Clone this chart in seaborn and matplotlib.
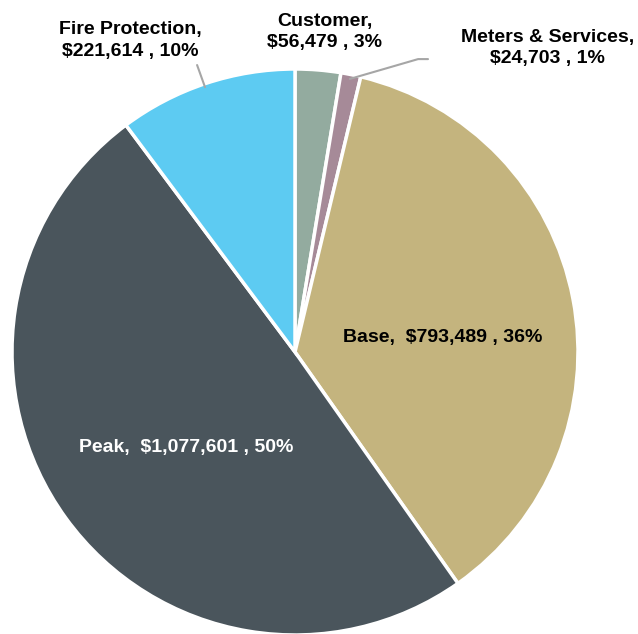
import matplotlib
matplotlib.use("Agg")
import matplotlib.pyplot as plt
import seaborn as sns

sns.set_theme(style="white")
plt.rcParams['font.family'] = ['Liberation Sans Narrow', 'Liberation Sans', 'DejaVu Sans']

categories = ["Customer", "Meters & Services", "Base", "Peak", "Fire Protection"]
values = [56479, 24703, 793489, 1077601, 221614]
percents = ["3%", "1%", "36%", "50%", "10%"]
colors = ["#93AB9F", "#A68A98", "#C4B47E", "#4A555C", "#5DCBF2"]

fig = plt.figure(figsize=(6.38, 6.34), dpi=100)
ax = fig.add_axes([12/638, -1/634, 566/638, 566/634])
ax.pie(values, colors=colors, startangle=90, counterclock=False,
       wedgeprops=dict(edgecolor="white", linewidth=2.5))
ax.set_xlim(-1, 1)
ax.set_ylim(-1, 1)
ax.set_aspect("equal")
ax.axis("off")

def fmt(v):
    return "${:,}".format(v)

fs = 14
ls = 1.35
lab = {c: (v, p) for c, v, p in zip(categories, values, percents)}

v, p = lab["Customer"]
ax.text(0.106, 1.13, f"Customer,\n{fmt(v)} , {p}", ha="center", va="center",
        fontsize=fs, fontweight="bold", color="black", linespacing=ls, clip_on=False)
v, p = lab["Fire Protection"]
ax.text(-0.583, 1.10, f"Fire Protection,\n{fmt(v)} , {p}", ha="center", va="center",
        fontsize=fs, fontweight="bold", color="black", linespacing=ls, clip_on=False)
v, p = lab["Meters & Services"]
ax.text(0.892, 1.074, f"Meters & Services,\n{fmt(v)} , {p}", ha="center", va="center",
        fontsize=fs, fontweight="bold", color="black", linespacing=ls, clip_on=False)
v, p = lab["Base"]
ax.text(0.523, 0.053, f"Base,  {fmt(v)} , {p}", ha="center", va="center",
        fontsize=fs, fontweight="bold", color="black")
v, p = lab["Peak"]
ax.text(-0.385, -0.336, f"Peak,  {fmt(v)} , {p}", ha="center", va="center",
        fontsize=fs, fontweight="bold", color="white")

# leader lines
ax.plot([0.194, 0.435, 0.470], [0.965, 1.035, 1.035], color="#A6A6A6", lw=1.5, clip_on=False)
ax.plot([-0.318, -0.346], [0.936, 1.014], color="#A6A6A6", lw=1.5, clip_on=False)

fig.savefig("out.png", dpi=100)
